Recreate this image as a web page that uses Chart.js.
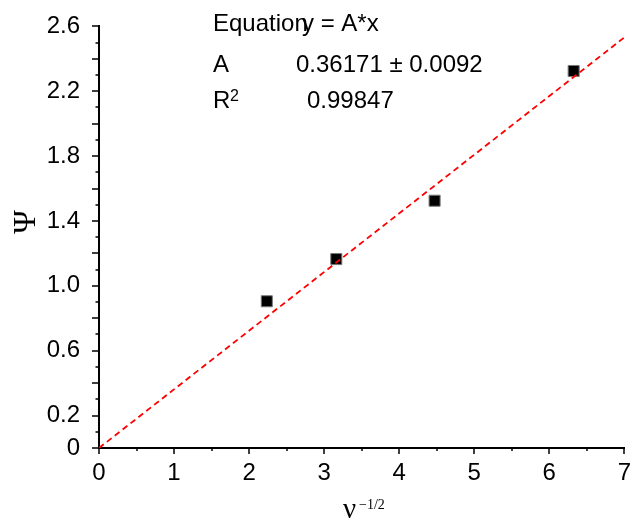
<!DOCTYPE html>
<html>
<head>
<meta charset="utf-8">
<script src="https://cdn.jsdelivr.net/npm/chart.js@4"></script>
<style>
  body { margin: 0; background: #fff; }
  canvas { display: block; }
</style>
</head>
<body>
<canvas id="chart" width="636" height="523"></canvas>
<script>
// measured points
const xVals = [2.236, 3.162, 4.472, 6.325];
const yVals = [0.905, 1.165, 1.525, 2.325];

// linear fit y = A*x, drawn from x = 0 to 7
const fitX = [0, 7];
const fitY = [0, 2.532];

const xTickLabels = [0, 1, 2, 3, 4, 5, 6, 7];
const yTickLabels = [0, 0.2, 0.6, 1.0, 1.4, 1.8, 2.2, 2.6];

const sans = "'Liberation Sans', Arial, sans-serif";
const serif = "'Liberation Serif', 'Times New Roman', serif";

function near(a, b) { return Math.abs(a - b) < 1e-6; }

function makeTicks(min, max, step) {
  const out = [];
  const n = Math.round((max - min) / step);
  for (let i = 0; i <= n; i++) out.push({ value: Math.round((min + i * step) * 1000) / 1000 });
  return out;
}

// tick marks, axis titles and the fit results box
const extras = {
  id: 'extras',
  afterDraw(chart) {
    const ctx = chart.ctx;
    const xs = chart.scales.x, ys = chart.scales.y;
    ctx.save();
    ctx.strokeStyle = '#000';
    ctx.lineWidth = 1.5;
    ctx.beginPath();
    xs.ticks.forEach(t => {
      const px = Math.round(xs.getPixelForValue(t.value));
      const len = near(t.value % 1, 0) ? 6 : 3;
      ctx.moveTo(px, xs.top);
      ctx.lineTo(px, xs.top + len);
    });
    ys.ticks.forEach(t => {
      const py = Math.round(ys.getPixelForValue(t.value));
      const major = near(Math.round(t.value * 10) % 2, 0);
      const len = major ? 7 : 3.5;
      ctx.moveTo(ys.right, py);
      ctx.lineTo(ys.right - len, py);
    });
    ctx.stroke();

    ctx.fillStyle = '#000';
    // y title
    ctx.save();
    ctx.translate(35, 222);
    ctx.rotate(-Math.PI / 2);
    ctx.font = '32px ' + serif;
    ctx.textAlign = 'center';
    ctx.textBaseline = 'alphabetic';
    ctx.fillText('\u03A8', 0, 0);
    ctx.restore();

    // x title
    ctx.textAlign = 'left';
    ctx.textBaseline = 'alphabetic';
    ctx.font = '29px ' + serif;
    ctx.fillText('\u03BD', 343, 518);
    ctx.font = '14px ' + serif;
    ctx.fillText('\u22121/2', 359, 509);

    // fit results
    ctx.font = '24px ' + sans;
    ctx.fillText('Equation', 213, 31);
    ctx.fillText('y = A*x', 302, 31);
    ctx.fillText('A', 213, 72);
    ctx.fillText('0.36171 \u00B1 0.0092', 296, 72);
    ctx.fillText('R', 213, 108);
    ctx.fillText('0.99847', 307, 108);
    ctx.font = '16px ' + sans;
    ctx.fillText('2', 230, 101);
    ctx.restore();
  }
};

const ctx = document.getElementById('chart').getContext('2d');
new Chart(ctx, {
  type: 'scatter',
  data: {
    datasets: [
      {
        type: 'line',
        data: fitX.map((x, i) => ({ x: x, y: fitY[i] })),
        borderColor: 'rgb(255,0,0)',
        borderWidth: 1.8,
        borderDash: [6, 4],
        pointRadius: 0,
        fill: false
      },
      {
        data: xVals.map((x, i) => ({ x: x, y: yVals[i] })),
        pointStyle: 'rect',
        pointRadius: 7.8,
        backgroundColor: '#000',
        borderColor: '#777',
        borderWidth: 1
      }
    ]
  },
  options: {
    responsive: false,
    animation: false,
    devicePixelRatio: 1,
    layout: { padding: { top: 24, right: 10, left: 0, bottom: 0 } },
    plugins: { legend: { display: false }, tooltip: { enabled: false } },
    scales: {
      x: {
        type: 'linear',
        min: 0,
        max: 7,
        afterFit: s => { s.height = 75; },
        afterBuildTicks: s => { s.ticks = makeTicks(0, 7, 0.5); },
        grid: { drawOnChartArea: false, tickLength: 6, tickColor: 'rgba(0,0,0,0)' },
        border: { color: '#000', width: 2 },
        ticks: {
          autoSkip: false,
          maxRotation: 0,
          padding: 5,
          color: '#000',
          font: { family: sans, size: 24 },
          callback: v => xTickLabels.some(l => near(l, v)) ? String(v) : ''
        }
      },
      y: {
        type: 'linear',
        min: 0,
        max: 2.6,
        afterFit: s => { s.width = 99; },
        afterBuildTicks: s => { s.ticks = makeTicks(0, 2.6, 0.1); },
        grid: { drawOnChartArea: false, tickLength: 7, tickColor: 'rgba(0,0,0,0)' },
        border: { color: '#000', width: 2 },
        ticks: {
          autoSkip: false,
          padding: 12,
          color: '#000',
          font: { family: sans, size: 24 },
          callback: v => {
            if (!yTickLabels.some(l => near(l, v))) return '';
            return near(v, 0) ? '0' : v.toFixed(1);
          }
        }
      }
    }
  },
  plugins: [extras]
});
</script>
</body>
</html>
